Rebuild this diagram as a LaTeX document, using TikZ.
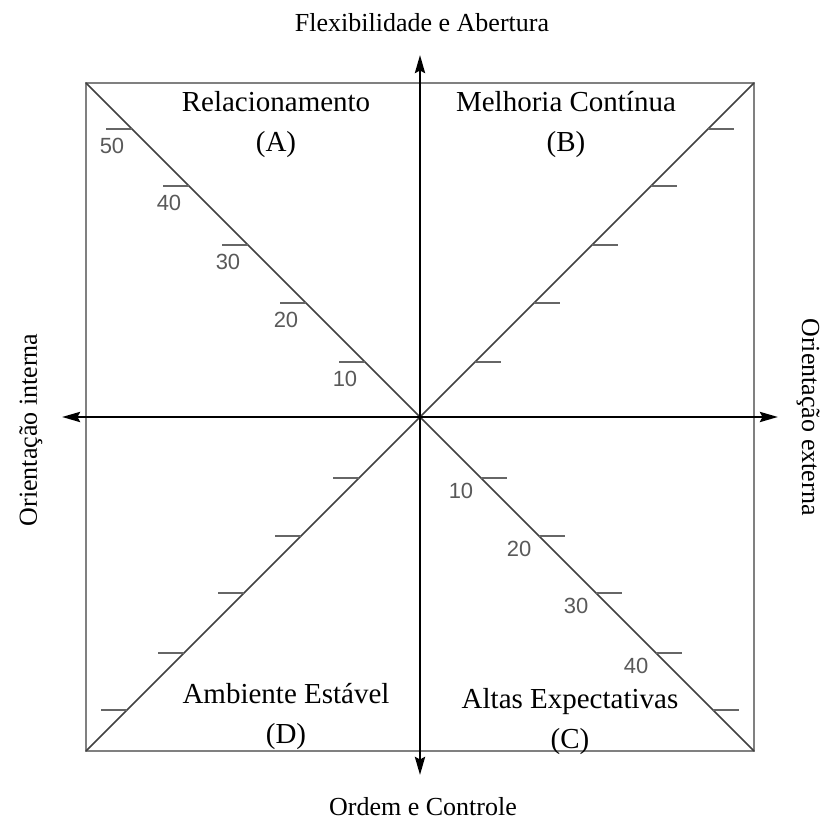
\documentclass[tikz,border=0pt]{standalone}
\usepackage{fontspec}
\setmainfont{Liberation Serif}
\setsansfont{Liberation Sans}
\usetikzlibrary{arrows.meta}

\tikzset{
  axis/.style={line width=1.6pt, {Stealth[length=0.36cm,width=0.2cm,inset=0.05cm]}-{Stealth[length=0.36cm,width=0.2cm,inset=0.05cm]}},
  frame/.style={line width=1.1pt, draw=black!50},
  diag/.style={line width=0.85pt, draw=black!75},
  scalemark/.style={line width=1.1pt, draw=black!60},
  scalenum/.style={font=\sffamily\fontsize{12.5}{14}\selectfont, text=black!65, inner sep=0pt},
  quadlabel/.style={font=\fontsize{16.5}{22.8}\selectfont, align=center, anchor=north, inner sep=0pt},
  axislabel/.style={font=\fontsize{14.8}{18}\selectfont, anchor=base, inner sep=0pt}
}

\begin{document}
\begin{tikzpicture}
  \def\half{6.68} % half side of the square
  \def\marklen{0.52} % length of a scale mark
  \def\upmarks{1.10,2.28,3.44,4.62,5.76} % heights of the marks above the centre
  \def\lowmarks{1.22,2.38,3.52,4.72,5.86} % depths of the marks below the centre

  \useasboundingbox (-8.4,-8.04) rectangle (8.0,8.34);

  \coordinate (O) at (0,0);
  \coordinate (tl) at (-\half,\half);
  \coordinate (tr) at (\half,\half);
  \coordinate (bl) at (-\half,-\half);
  \coordinate (br) at (\half,-\half);
  \coordinate (W) at (-7.16,0);
  \coordinate (E) at (7.16,0);
  \coordinate (N) at (0,7.24);
  \coordinate (S) at (0,-7.16);

  \draw[frame] (bl) rectangle (tr);
  \draw[diag] (tl) -- (O) -- (br);
  \draw[diag] (bl) -- (O) -- (tr);

  \foreach \d in \upmarks {
    \draw[scalemark] (-\d,\d) -- ++(-\marklen,0);
    \draw[scalemark] (\d,\d) -- ++(\marklen,0); }
  \foreach \d in \lowmarks {
    \draw[scalemark] (\d,-\d) -- ++(\marklen,0);
    \draw[scalemark] (-\d,-\d) -- ++(-\marklen,0); }

  \foreach \d/\n [count=\i] in {1.10/10,2.28/20,3.44/30,4.62/40,5.76/50} {
    \node[scalenum] (ul\i) at (-\d-0.40,\d-0.33) {\n}; }
  \foreach \d/\n [count=\i] in {1.22/10,2.38/20,3.52/30,4.72/40} {
    \node[scalenum] (lr\i) at (\d-0.40,-\d-0.26) {\n}; }

  \draw[axis] (W) -- (E);
  \draw[axis] (S) -- (N);

  \node[quadlabel] (qA) at (-2.88,6.52) {Relacionamento\\(A)};
  \node[quadlabel] (qB) at (2.92,6.52) {Melhoria Contínua\\(B)};
  \node[quadlabel] (qD) at (-2.68,-5.32) {Ambiente Estável\\(D)};
  \node[quadlabel] (qC) at (3.0,-5.42) {Altas Expectativas\\(C)};

  \node[axislabel] (flex) at (0.04,7.7) {Flexibilidade e Abertura};
  \node[axislabel] (ordem) at (0.06,-7.98) {Ordem e Controle};
  \node[axislabel, rotate=90] (interna) at (-7.66,-0.26) {Orientação interna};
  \node[axislabel, rotate=-90] (externa) at (7.64,0) {Orientação externa};
\end{tikzpicture}
\end{document}
